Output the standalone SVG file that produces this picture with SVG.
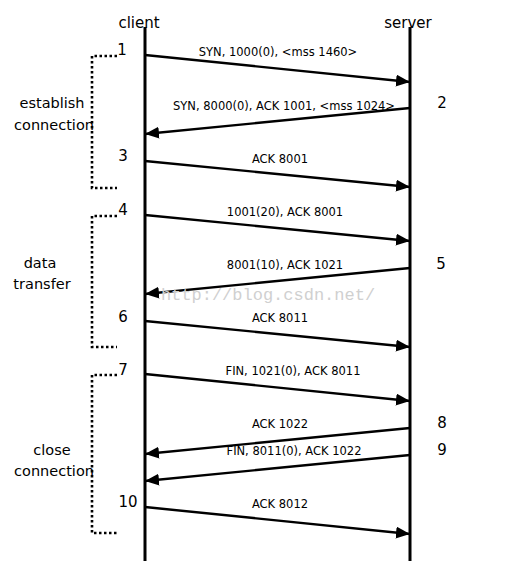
<svg xmlns="http://www.w3.org/2000/svg" width="517" height="568" viewBox="0 0 517 568">
<style>
text{font-family:"DejaVu Sans","Liberation Sans",sans-serif;fill:#000}
.lbl{font-size:11.5px;text-anchor:middle}
.num{font-size:15px;text-anchor:middle}
.side{font-size:14.5px;text-anchor:middle}
.life{stroke:#000;stroke-width:3}
.msg{stroke:#000;stroke-width:2.4;fill:none;marker-end:url(#ah)}
.brk{stroke:#000;stroke-width:2.6;fill:none;stroke-dasharray:2.5 2.5}
.wm{font-family:"Liberation Mono","DejaVu Sans Mono",monospace;font-size:17px;fill:#d0d0d0;text-anchor:middle}
</style>
<defs>
<marker id="ah" markerUnits="userSpaceOnUse" markerWidth="16" markerHeight="14" refX="14" refY="6" orient="auto">
<path d="M0,0 L14,6 L0,12 Z" fill="#000"/>
</marker>
</defs>
<rect width="517" height="568" fill="#fff"/>
<g id="client">
<line class="life" x1="145" y1="27" x2="145" y2="561"/>
<text x="139" y="28" style="font-size:15px;text-anchor:middle">client</text>
</g>
<g id="server">
<line class="life" x1="410" y1="27" x2="410" y2="561"/>
<text x="408" y="28" style="font-size:15px;text-anchor:middle">server</text>
</g>
<g id="phase-establish">
<path class="brk" d="M117,56 H92 V188 H117"/>
<text class="side" x="52" y="108">establish</text>
<text class="side" x="54" y="130">connection</text>
</g>
<g id="phase-data">
<path class="brk" d="M117,216 H92 V347 H117"/>
<text class="side" x="40" y="268">data</text>
<text class="side" x="42" y="289">transfer</text>
</g>
<g id="phase-close">
<path class="brk" d="M117,375 H92 V533 H117"/>
<text class="side" x="52" y="455">close</text>
<text class="side" x="54" y="476">connection</text>
</g>
<g id="connectors">
<line class="msg" x1="145" y1="55" x2="410" y2="82"/>
<line class="msg" x1="410" y1="108" x2="145" y2="134"/>
<line class="msg" x1="145" y1="161" x2="410" y2="187"/>
<line class="msg" x1="145" y1="215" x2="410" y2="241"/>
<line class="msg" x1="410" y1="268" x2="145" y2="294"/>
<line class="msg" x1="145" y1="321" x2="410" y2="347"/>
<line class="msg" x1="145" y1="374" x2="410" y2="401"/>
<line class="msg" x1="410" y1="428" x2="145" y2="454"/>
<line class="msg" x1="410" y1="455" x2="145" y2="481"/>
<line class="msg" x1="145" y1="507" x2="410" y2="534"/>
</g>
<g id="labels">
<text class="lbl" x="278" y="56">SYN, 1000(0), &lt;mss 1460&gt;</text>
<text class="lbl" x="284" y="110">SYN, 8000(0), ACK 1001, &lt;mss 1024&gt;</text>
<text class="lbl" x="280" y="163">ACK 8001</text>
<text class="lbl" x="285" y="216">1001(20), ACK 8001</text>
<text class="lbl" x="285" y="269">8001(10), ACK 1021</text>
<text class="lbl" x="280" y="322">ACK 8011</text>
<text class="lbl" x="293" y="375">FIN, 1021(0), ACK 8011</text>
<text class="lbl" x="280" y="428">ACK 1022</text>
<text class="lbl" x="294" y="455">FIN, 8011(0), ACK 1022</text>
<text class="lbl" x="280" y="508">ACK 8012</text>
</g>
<g id="numbers">
<text class="num" x="122" y="55">1</text>
<text class="num" x="442" y="108">2</text>
<text class="num" x="123" y="161">3</text>
<text class="num" x="123" y="215">4</text>
<text class="num" x="441" y="269">5</text>
<text class="num" x="123" y="322">6</text>
<text class="num" x="123" y="375">7</text>
<text class="num" x="442" y="428">8</text>
<text class="num" x="442" y="455">9</text>
<text class="num" x="128" y="507">10</text>
</g>
<text class="wm" x="268" y="300">http://blog.csdn.net/</text>
</svg>
